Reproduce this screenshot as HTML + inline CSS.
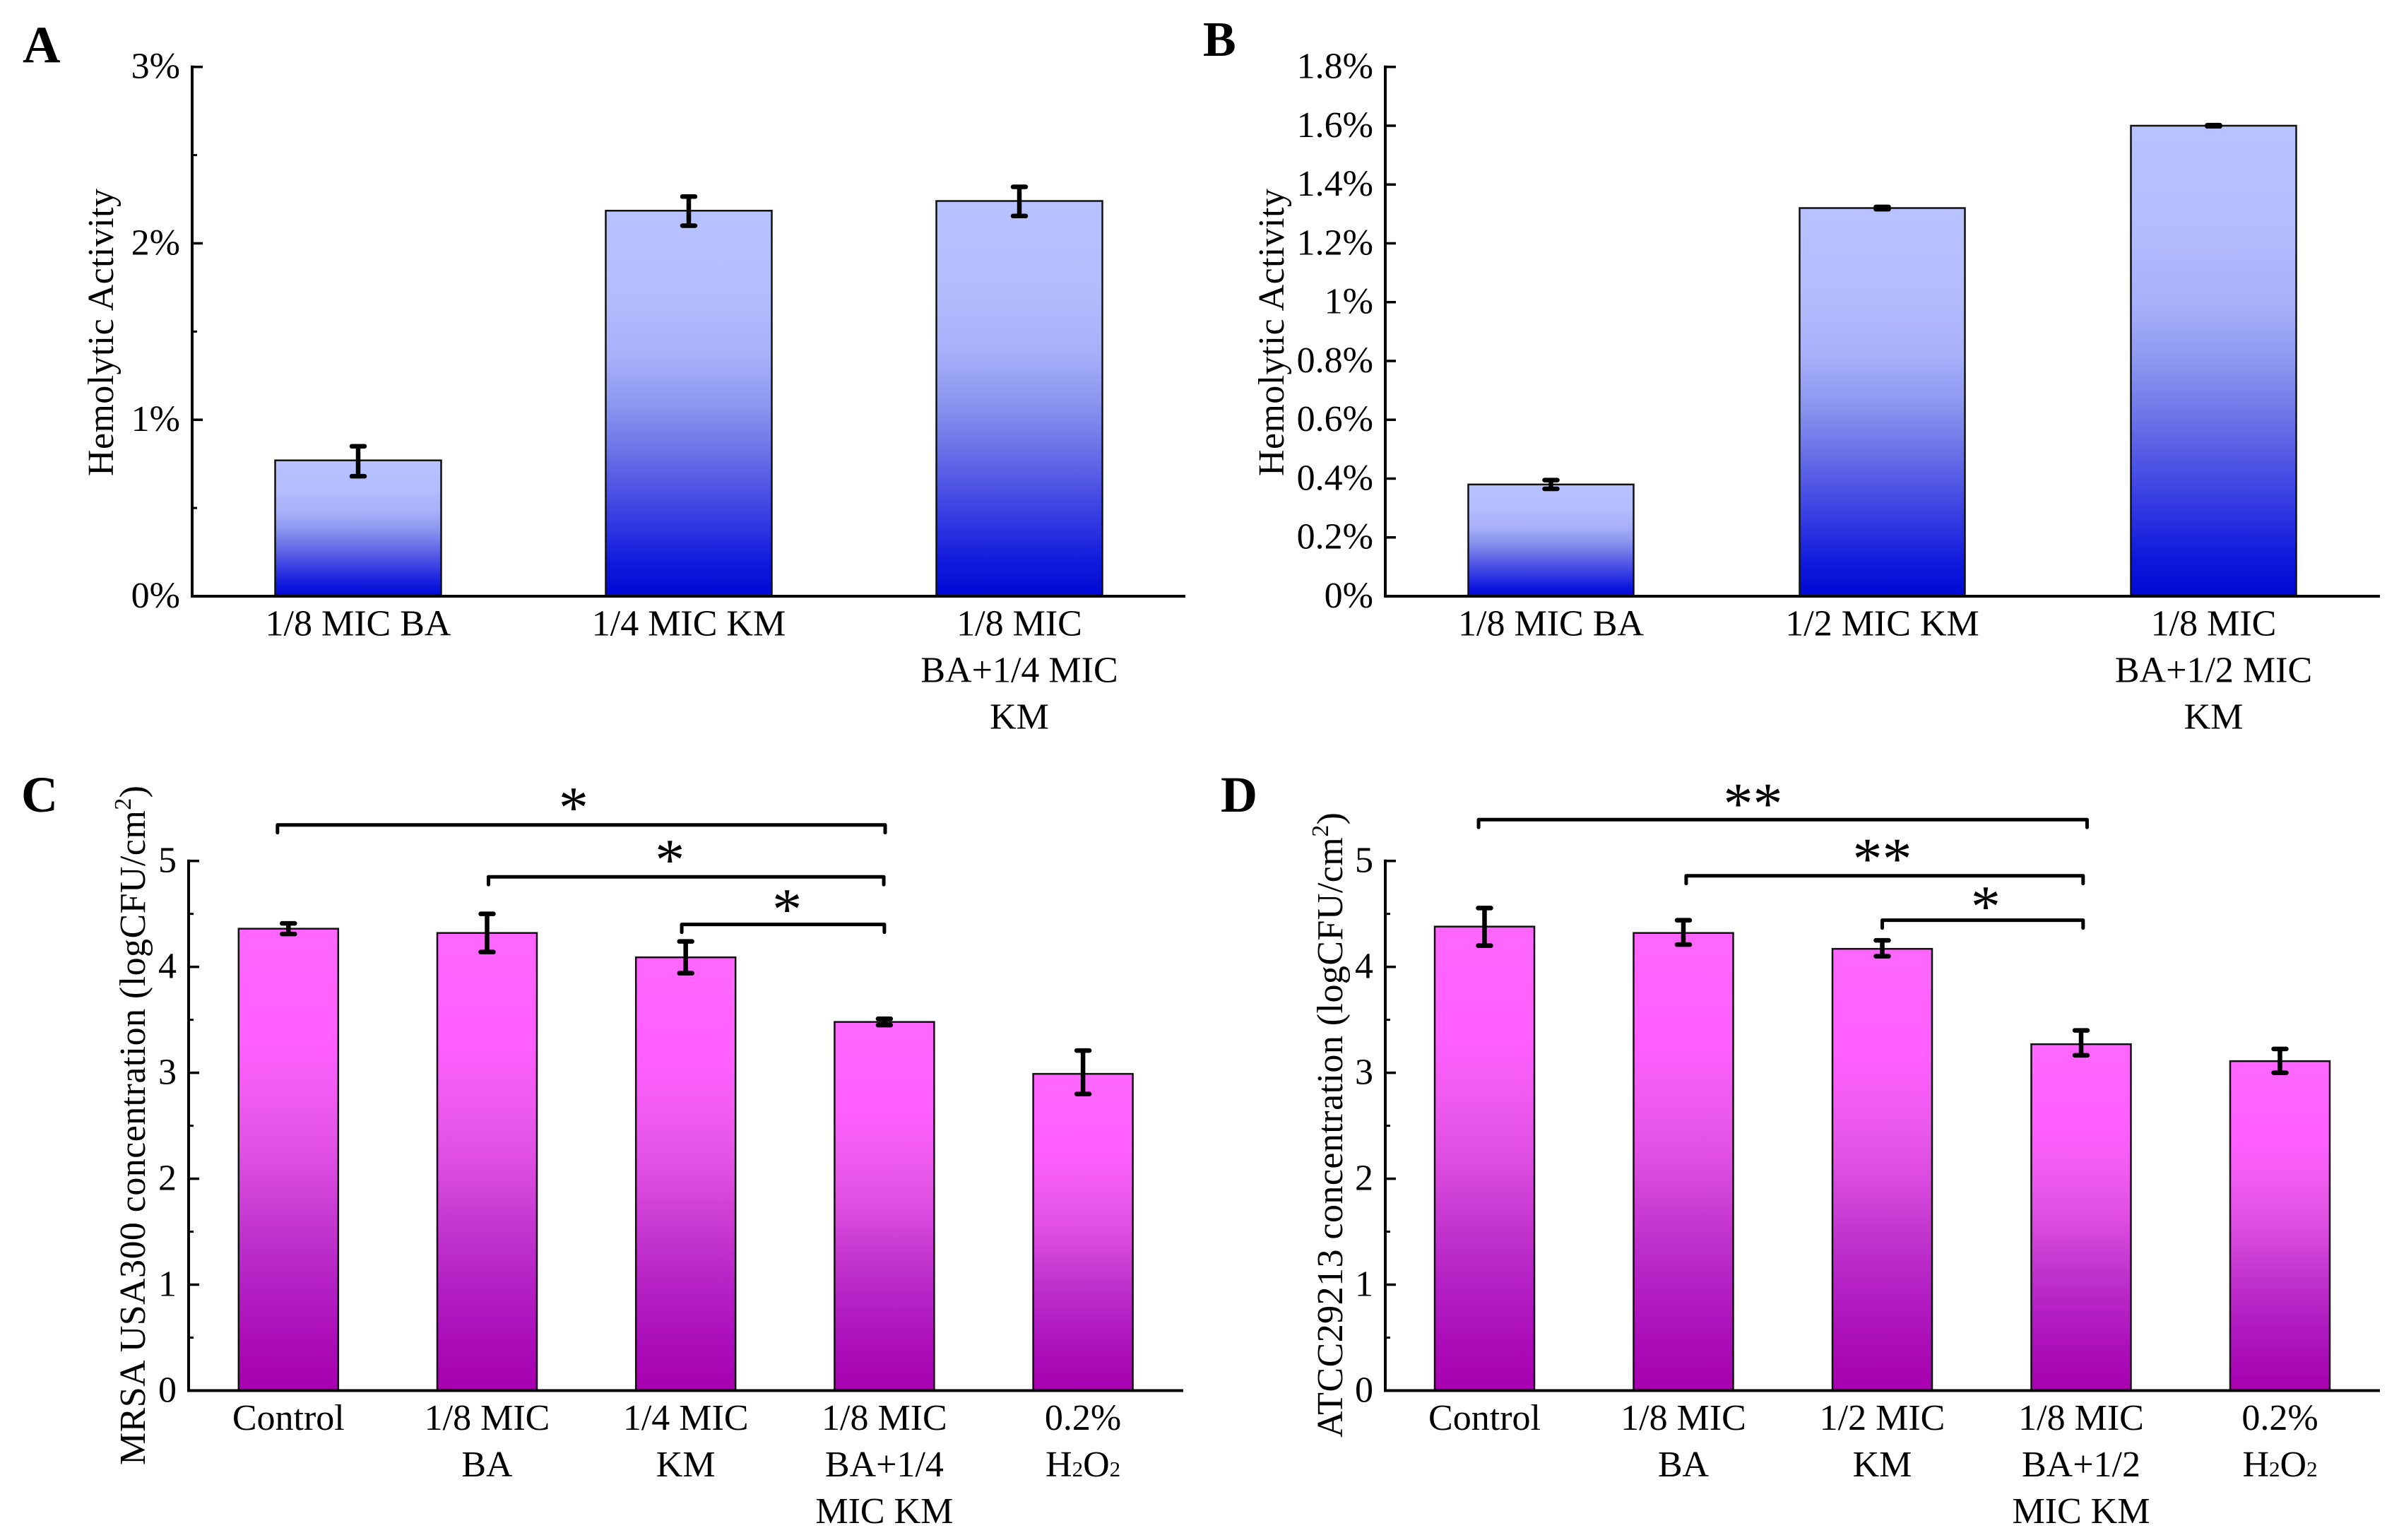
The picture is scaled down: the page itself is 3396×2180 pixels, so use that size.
<!DOCTYPE html>
<html lang="en">
<head>
<meta charset="utf-8">
<title>Hemolytic activity and bacterial concentration bar charts</title>
<style>
html,body{margin:0;padding:0;background:#fff;}
svg{display:block;}
text{font-family:"Liberation Serif","DejaVu Serif",serif;fill:#000;}
</style>
</head>
<body>
<svg id="figure" xmlns="http://www.w3.org/2000/svg" width="3396" height="2180" viewBox="0 0 3396 2180">
  <defs>
    <linearGradient id="blue-grad" x1="0" y1="0" x2="0" y2="1">
      <stop offset="0" stop-color="#b8c2ff"/>
      <stop offset="0.2" stop-color="#b4befe"/>
      <stop offset="0.38" stop-color="#a8b0fa"/>
      <stop offset="0.5" stop-color="#8c98f0"/>
      <stop offset="0.62" stop-color="#6c74e8"/>
      <stop offset="0.72" stop-color="#4e54e4"/>
      <stop offset="0.82" stop-color="#2e36e2"/>
      <stop offset="0.92" stop-color="#0e18dc"/>
      <stop offset="1" stop-color="#0008d4"/>
    </linearGradient>
    <linearGradient id="magenta-grad" x1="0" y1="0" x2="0" y2="1">
      <stop offset="0" stop-color="#ff66ff"/>
      <stop offset="0.24" stop-color="#ff5fff"/>
      <stop offset="0.38" stop-color="#ee5aee"/>
      <stop offset="0.51" stop-color="#dd4ce0"/>
      <stop offset="0.64" stop-color="#c436cf"/>
      <stop offset="0.77" stop-color="#b420c4"/>
      <stop offset="0.9" stop-color="#aa0cb8"/>
      <stop offset="1" stop-color="#a800b0"/>
    </linearGradient>
  </defs>
  <rect x="0" y="0" width="3396" height="2180" fill="#fff"/>

  <text x="32" y="88" font-size="74" font-weight="bold">A</text>
  <text x="1703" y="79" font-size="70" font-weight="bold">B</text>
  <text x="30" y="1149" font-size="72" font-weight="bold">C</text>
  <text x="1728" y="1149" font-size="72" font-weight="bold">D</text>

  <text font-size="52" textLength="407" transform="translate(160,674) rotate(-90)">Hemolytic Activity</text>
  <text font-size="52" textLength="407" transform="translate(1817,674) rotate(-90)">Hemolytic Activity</text>
  <text font-size="52" textLength="962" transform="translate(205,2074) rotate(-90)">MRSA USA300 concentration (logCFU/cm<tspan font-size="34" dy="-20">2</tspan><tspan dy="20">)</tspan></text>
  <text font-size="52" textLength="885" transform="translate(1900,2035) rotate(-90)">ATCC29213 concentration (logCFU/cm<tspan font-size="34" dy="-20">2</tspan><tspan dy="20">)</tspan></text>

  <g id="charts"></g>
</svg>
<script>
// Panel A
const panelACategories = [["1/8 MIC BA"], ["1/4 MIC KM"], ["1/8 MIC", "BA+1/4 MIC", "KM"]];
const panelAValues = [0.77, 2.185, 2.24];
const panelAErrLow = [0.68, 2.10, 2.155];
const panelAErrHigh = [0.85, 2.265, 2.32];
const panelATicks = [0, 1, 2, 3];
const panelATickLabels = ["0%", "1%", "2%", "3%"];
const panelAMinorTicks = [0.5, 1.5, 2.5];

// Panel B
const panelBCategories = [["1/8 MIC BA"], ["1/2 MIC KM"], ["1/8 MIC", "BA+1/2 MIC", "KM"]];
const panelBValues = [0.38, 1.32, 1.60];
const panelBErrLow = [0.365, 1.316, 1.598];
const panelBErrHigh = [0.395, 1.324, 1.602];
const panelBTicks = [0, 0.2, 0.4, 0.6, 0.8, 1, 1.2, 1.4, 1.6, 1.8];
const panelBTickLabels = ["0%", "0.2%", "0.4%", "0.6%", "0.8%", "1%", "1.2%", "1.4%", "1.6%", "1.8%"];
const panelBMinorTicks = [];

// Panel C
const panelCCategories = [["Control"], ["1/8 MIC", "BA"], ["1/4 MIC", "KM"], ["1/8 MIC", "BA+1/4", "MIC KM"], ["0.2%", "H₂O₂"]];
const panelCValues = [4.36, 4.32, 4.09, 3.48, 2.99];
const panelCErrLow = [4.31, 4.14, 3.94, 3.45, 2.80];
const panelCErrHigh = [4.41, 4.50, 4.24, 3.51, 3.21];
const panelCTicks = [0, 1, 2, 3, 4, 5];
const panelCTickLabels = ["0", "1", "2", "3", "4", "5"];
const panelCMinorTicks = [0.5, 1.5, 2.5, 3.5, 4.5];
const panelCBracketFrom = [-0.055, 1.007, 1.98];
const panelCBracketTo = [3.004, 2.997, 3.0];
const panelCBracketLevel = [5.34, 4.85, 4.40];
const panelCStars = ["*", "*", "*"];
const panelCStarPos = [1.435, 1.92, 2.51];
const panelCStarLevel = [5.585, 5.09, 4.625];

// Panel D
const panelDCategories = [["Control"], ["1/8 MIC", "BA"], ["1/2 MIC", "KM"], ["1/8 MIC", "BA+1/2", "MIC KM"], ["0.2%", "H₂O₂"]];
const panelDValues = [4.38, 4.32, 4.17, 3.27, 3.11];
const panelDErrLow = [4.20, 4.21, 4.10, 3.165, 3.00];
const panelDErrHigh = [4.555, 4.44, 4.25, 3.40, 3.225];
const panelDTicks = [0, 1, 2, 3, 4, 5];
const panelDTickLabels = ["0", "1", "2", "3", "4", "5"];
const panelDMinorTicks = [0.5, 1.5, 2.5, 3.5, 4.5];
const panelDBracketFrom = [-0.03, 1.014, 2.0];
const panelDBracketTo = [3.03, 3.01, 3.01];
const panelDBracketLevel = [5.39, 4.86, 4.44];
const panelDStars = ["**", "**", "*"];
const panelDStarPos = [1.35, 2.0, 2.52];
const panelDStarLevel = [5.62, 5.10, 4.65];

const NS = "http://www.w3.org/2000/svg";
const root = document.getElementById("charts");

function make(parent, tag, attrs) {
  const node = document.createElementNS(NS, tag);
  for (const key in attrs) node.setAttribute(key, attrs[key]);
  parent.appendChild(node);
  return node;
}

function drawPanel(cfg) {
  const x = (pos) => cfg.firstCenter + pos * cfg.step;
  const y = (val) => cfg.baseY - (val / cfg.yMax) * (cfg.baseY - cfg.topY);

  const g = make(root, "g", {});
  
  

  // bars
  cfg.values.forEach((v, i) => {
    const bar = make(g, "rect", {
      x: x(i) - cfg.barW / 2, y: y(v), width: cfg.barW, height: cfg.baseY - y(v),
      fill: "url(#" + cfg.gradient + ")", stroke: "#111", "stroke-width": 2.5
    });
    
    
  });

  // error bars
  cfg.errLow.forEach((low, i) => {
    const high = cfg.errHigh[i];
    const cx = x(i);
    const err = make(g, "path", {
      d: "M" + cx + " " + y(low) + "V" + y(high) +
         "M" + (cx - 9) + " " + y(low) + "H" + (cx + 9) +
         "M" + (cx - 9) + " " + y(high) + "H" + (cx + 9),
      fill: "none", stroke: "#000", "stroke-width": 6.5, "stroke-linecap": "round"
    });
    
    
  });

  // axes
  const yAxis = make(g, "line", {
    x1: cfg.axisX, x2: cfg.axisX, y1: cfg.topY - 2, y2: cfg.baseY + 2,
    stroke: "#000", "stroke-width": 4
  });
  
  

  const xAxis = make(g, "line", {
    x1: cfg.axisX - 2, x2: cfg.axisEnd, y1: cfg.baseY, y2: cfg.baseY,
    stroke: "#000", "stroke-width": 4
  });
  
  

  // ticks
  cfg.ticks.forEach((t, i) => {
    if (t !== 0) {
      const tick = make(g, "line", {
        x1: cfg.axisX, x2: cfg.axisX + 15, y1: y(t), y2: y(t),
        stroke: "#000", "stroke-width": 3.5
      });
      
      
    }
    const label = make(g, "text", {
      x: cfg.axisX - 17, y: y(t) + 16, "font-size": 52, "text-anchor": "end"
    });
    label.textContent = cfg.tickLabels[i];
    
    
  });
  cfg.minorTicks.forEach((t) => {
    const minor = make(g, "line", {
      x1: cfg.axisX, x2: cfg.axisX + 7, y1: y(t), y2: y(t),
      stroke: "#000", "stroke-width": 3
    });
    
    
  });

  // category labels
  cfg.categories.forEach((lines, i) => {
    lines.forEach((line, n) => {
      const label = make(g, "text", {
        x: x(i), y: cfg.baseY + 55.5 + n * 66, "font-size": 52, "text-anchor": "middle"
      });
      line.split(/(₂)/).forEach((part) => {
        if (!part) return;
        const span = make(label, "tspan", part === "₂" ? { "font-size": 31 } : {});
        span.textContent = part === "₂" ? "2" : part;
      });
      
      
    });
  });

  // significance brackets
  (cfg.bracketFrom || []).forEach((from, i) => {
    const top = y(cfg.bracketLevel[i]);
    const bracket = make(g, "path", {
      d: "M" + x(from) + " " + (top + 11) + "V" + top + "H" + x(cfg.bracketTo[i]) + "V" + (top + 11),
      fill: "none", stroke: "#000", "stroke-width": 5, "stroke-linecap": "round", "stroke-linejoin": "round"
    });
    
    

    const star = make(g, "text", {
      x: x(cfg.starPos[i]), y: y(cfg.starLevel[i]) + 40, "font-size": 84, "text-anchor": "middle"
    });
    star.textContent = cfg.stars[i];
    
    
  });
}

drawPanel({
  id: "a", gradient: "blue-grad", axisX: 272, axisEnd: 1678, baseY: 844, topY: 94.7, yMax: 3,
  firstCenter: 507, step: 468, barW: 235,
  categories: panelACategories, values: panelAValues, errLow: panelAErrLow, errHigh: panelAErrHigh,
  ticks: panelATicks, tickLabels: panelATickLabels, minorTicks: panelAMinorTicks
});
drawPanel({
  id: "b", gradient: "blue-grad", axisX: 1961, axisEnd: 3369, baseY: 844, topY: 94.7, yMax: 1.8,
  firstCenter: 2195.5, step: 469, barW: 234,
  categories: panelBCategories, values: panelBValues, errLow: panelBErrLow, errHigh: panelBErrHigh,
  ticks: panelBTicks, tickLabels: panelBTickLabels, minorTicks: panelBMinorTicks
});
drawPanel({
  id: "c", gradient: "magenta-grad", axisX: 267, axisEnd: 1675, baseY: 1968.5, topY: 1218.7, yMax: 5,
  firstCenter: 408.3, step: 281.2, barW: 141,
  categories: panelCCategories, values: panelCValues, errLow: panelCErrLow, errHigh: panelCErrHigh,
  ticks: panelCTicks, tickLabels: panelCTickLabels, minorTicks: panelCMinorTicks,
  bracketFrom: panelCBracketFrom, bracketTo: panelCBracketTo, bracketLevel: panelCBracketLevel,
  stars: panelCStars, starPos: panelCStarPos, starLevel: panelCStarLevel
});
drawPanel({
  id: "d", gradient: "magenta-grad", axisX: 1961, axisEnd: 3369, baseY: 1968.5, topY: 1218.7, yMax: 5,
  firstCenter: 2101.5, step: 281.5, barW: 141,
  categories: panelDCategories, values: panelDValues, errLow: panelDErrLow, errHigh: panelDErrHigh,
  ticks: panelDTicks, tickLabels: panelDTickLabels, minorTicks: panelDMinorTicks,
  bracketFrom: panelDBracketFrom, bracketTo: panelDBracketTo, bracketLevel: panelDBracketLevel,
  stars: panelDStars, starPos: panelDStarPos, starLevel: panelDStarLevel
});
</script>
</body>
</html>
